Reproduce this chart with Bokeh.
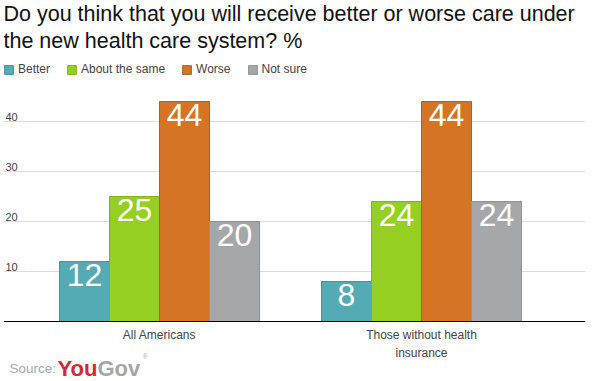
from bokeh.plotting import figure
from bokeh.models import ColumnDataSource, FixedTicker, Legend, LegendItem, Span
from bokeh.core.properties import value
from bokeh.embed import file_html
from bokeh.resources import INLINE

groups = ["All Americans", "Those without health\ninsurance"]
series = ["Better", "About the same", "Worse", "Not sure"]
values = {
    "Better": [12, 8],
    "About the same": [25, 24],
    "Worse": [44, 44],
    "Not sure": [20, 24],
}
colors = ["#55abb3", "#94cf22", "#d57425", "#a6a7a9"]
line_colors = ["#44959c", "#7fb41a", "#b0601f", "#909193"]
y_ticks = [10, 20, 30, 40]
title_text = "Do you think that you will receive better or worse care under\nthe new health care system? %"

FONT = "Liberation Sans"
PX = 262.0          # pixels per group step
bw = 50 / PX
x0 = -156 / PX
x1 = x0 + 582 / PX
y0 = -60 / 5.0
y1 = 321 / 5.0

p = figure(width=599, height=381, output_backend="svg", toolbar_location=None,
           x_range=(x0, x1), y_range=(y0, y1),
           min_border_left=3, min_border_right=14, min_border_bottom=0, min_border_top=0)
p.outline_line_color = None
p.xaxis.visible = False
p.yaxis.visible = False
p.xgrid.visible = False
p.ygrid.ticker = FixedTicker(ticks=y_ticks)
p.ygrid.grid_line_color = "#dddddd"

# title
p.text(x=[x0], y=[y1], text=[title_text], x_offset=0, y_offset=1,
       text_baseline="top", text_align="left", text_color="#111111",
       text_font=value(FONT), text_font_size="21.5px", text_line_height=1.16)

items = []
for i, s in enumerate(series):
    xs = [g + (i - 1.5) * bw for g in range(len(groups))]
    src = ColumnDataSource(dict(x=xs, top=values[s], lab=[str(v) for v in values[s]]))
    r = p.vbar(x="x", top="top", width=bw, source=src, fill_color=colors[i],
               line_color=line_colors[i], line_width=1)
    p.text(x="x", y="top", text="lab", source=src, text_align="center",
           text_baseline="top", y_offset=2, text_color="white",
           text_font=value(FONT), text_font_size="32px")
    items.append(LegendItem(label=s, renderers=[r]))

legend = Legend(items=items, orientation="horizontal", location=(0, 305),
                glyph_width=11, glyph_height=11, label_text_font=FONT,
                label_text_font_size="12px", label_text_color="#444444",
                label_standoff=4, spacing=16, padding=0, margin=0,
                border_line_color=None, background_fill_alpha=0,
                label_height=11)
p.add_layout(legend)

# baseline
p.add_layout(Span(location=0, dimension="width", line_color="#000000", line_width=1))

# y tick labels inside the plot, above the gridlines
tsrc = ColumnDataSource(dict(x=[x0] * len(y_ticks), y=y_ticks,
                             t=[str(t) for t in y_ticks]))
p.text(x="x", y="y", text="t", source=tsrc, x_offset=2, y_offset=-5,
       text_baseline="alphabetic", text_align="left", text_color="#444444",
       text_font=value(FONT), text_font_size="11px")

# category labels
csrc = ColumnDataSource(dict(x=list(range(len(groups))), y=[0] * len(groups), t=groups))
p.text(x="x", y="y", text="t", source=csrc, y_offset=6, text_baseline="top",
       text_align="center", text_color="#444444", text_font=value(FONT),
       text_font_size="12px", text_line_height=1.33)

# source credit
p.text(x=[x0], y=[0], text=["Source:"], x_offset=6, y_offset=47,
       text_baseline="alphabetic", text_align="left", text_color="#aaaaaa",
       text_font=value(FONT), text_font_size="13.5px", text_line_height=1.0)
p.text(x=[x0], y=[0], text=["You"], x_offset=54, y_offset=47,
       text_baseline="alphabetic", text_align="left", text_color="#d6282e",
       text_font=value(FONT), text_font_size="22px", text_font_style="bold",
       text_line_height=1.0)
p.text(x=[x0], y=[0], text=["Gov"], x_offset=94, y_offset=47,
       text_baseline="alphabetic", text_align="left", text_color="#a5a5a5",
       text_font=value(FONT), text_font_size="22px", text_font_style="bold",
       text_line_height=1.0)
p.text(x=[x0], y=[0], text=["®"], x_offset=139, y_offset=35,
       text_baseline="alphabetic", text_align="left", text_color="#b5b5b5",
       text_font=value(FONT), text_font_size="7px")

open("out.html", "w").write(file_html(p, INLINE))
